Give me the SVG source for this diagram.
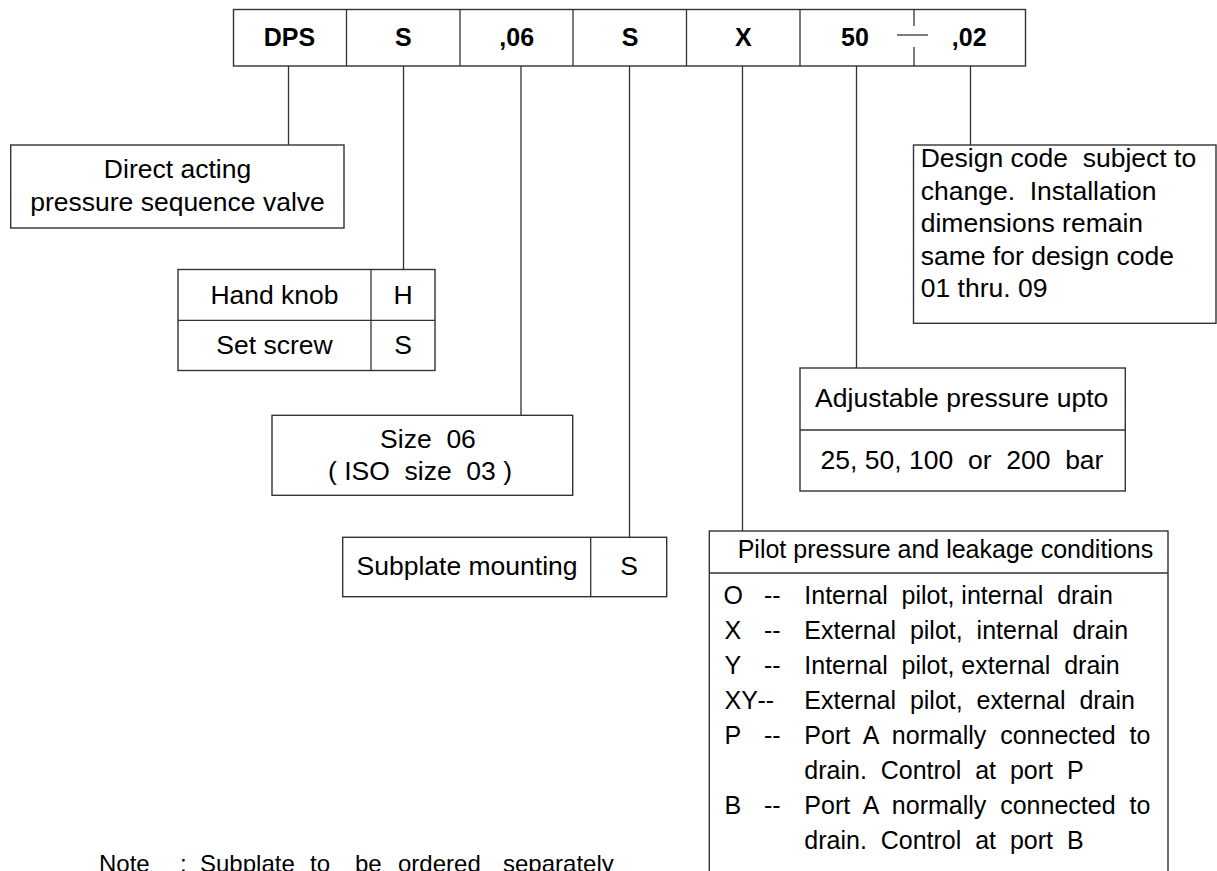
<svg xmlns="http://www.w3.org/2000/svg" width="1217" height="871" viewBox="0 0 1217 871">
<style>
text{white-space:pre}
.box{fill:#fff;stroke:#333;stroke-width:1.4}
.ln{stroke:#333;stroke-width:1.3;fill:none}
.t{font-family:"Liberation Sans",Arial,sans-serif;font-size:26.5px;fill:#000}
.p{font-family:"Liberation Sans",Arial,sans-serif;font-size:25px;fill:#000}
.b{font-family:"Liberation Sans",Arial,sans-serif;font-size:25px;font-weight:bold;fill:#000;text-anchor:middle}
.m{text-anchor:middle}
</style>
<rect width="1217" height="871" fill="#fff"/>
<g id="connectors">
<line class="ln" x1="288.5" y1="66" x2="288.5" y2="145"/>
<line class="ln" x1="403.5" y1="66" x2="403.5" y2="269"/>
<line class="ln" x1="521" y1="66" x2="521" y2="415"/>
<line class="ln" x1="629.5" y1="66" x2="629.5" y2="537"/>
<line class="ln" x1="742.5" y1="66" x2="742.5" y2="531"/>
<line class="ln" x1="856.5" y1="66" x2="856.5" y2="368"/>
<line class="ln" x1="970.5" y1="66" x2="970.5" y2="145"/>
</g>
<g id="code-bar">
<rect class="box" x="233.5" y="9.5" width="792" height="56.5"/>
<line class="ln" x1="346.5" y1="9.5" x2="346.5" y2="66"/>
<line class="ln" x1="460" y1="9.5" x2="460" y2="66"/>
<line class="ln" x1="573" y1="9.5" x2="573" y2="66"/>
<line class="ln" x1="686.5" y1="9.5" x2="686.5" y2="66"/>
<line class="ln" x1="800" y1="9.5" x2="800" y2="66"/>
<line class="ln" x1="914" y1="9.5" x2="914" y2="26"/>
<line class="ln" x1="914" y1="47" x2="914" y2="66"/>
<line class="ln" x1="897" y1="35" x2="928" y2="35"/>
<text class="b" x="289.5" y="46">DPS</text>
<text class="b" x="403.3" y="46">S</text>
<text class="b" x="516.7" y="46">,06</text>
<text class="b" x="630" y="46">S</text>
<text class="b" x="743.3" y="46">X</text>
<text class="b" x="855" y="46">50</text>
<text class="b" x="969.2" y="46">,02</text>
</g>
<g id="type">
<rect class="box" x="10.7" y="145" width="333.3" height="83"/>
<text class="t m" x="177.5" y="178.3">Direct acting</text>
<text class="t m" x="177.5" y="211">pressure sequence valve</text>
</g>
<g id="adjustment">
<rect class="box" x="178" y="269.5" width="257" height="101"/>
<line class="ln" x1="178" y1="320.3" x2="435" y2="320.3"/>
<line class="ln" x1="371" y1="269.5" x2="371" y2="370.5"/>
<text class="t m" x="274.5" y="304">Hand knob</text>
<text class="t m" x="403" y="304">H</text>
<text class="t m" x="274.5" y="354">Set screw</text>
<text class="t m" x="403" y="354">S</text>
</g>
<g id="size">
<rect class="box" x="272" y="415.3" width="300.7" height="80"/>
<text class="t m" x="428" y="448.3">Size  06</text>
<text class="t m" x="420" y="480">( ISO  size  03 )</text>
</g>
<g id="mounting">
<rect class="box" x="342.7" y="537.3" width="324" height="59.4"/>
<line class="ln" x1="590.7" y1="537.3" x2="590.7" y2="596.7"/>
<text class="t m" x="467" y="575">Subplate mounting</text>
<text class="t m" x="629" y="575">S</text>
</g>
<g id="design-code">
<rect class="box" x="913.5" y="145" width="302.5" height="178.3"/>
<text class="t" x="920.7" y="166.7">Design code  subject to</text>
<text class="t" x="920.7" y="199.5">change.  Installation</text>
<text class="t" x="920.7" y="232">dimensions remain</text>
<text class="t" x="920.7" y="264.5">same for design code</text>
<text class="t" x="920.7" y="297">01 thru. 09</text>
</g>
<g id="pressure">
<rect class="box" x="800" y="368" width="325.3" height="123"/>
<line class="ln" x1="800" y1="430" x2="1125.3" y2="430"/>
<text class="t m" x="961.7" y="407.3">Adjustable pressure upto</text>
<text class="t m" x="962" y="469.3">25, 50, 100  or  200  bar</text>
</g>
<g id="pilot">
<rect class="box" x="709.3" y="531" width="458.7" height="360"/>
<line class="ln" x1="709.3" y1="573" x2="1168" y2="573"/>
<text class="p" x="737.7" y="558">Pilot pressure and leakage conditions</text>
<text class="p" x="723.5" y="604">O</text><text class="p" x="764" y="604">--</text><text class="p" x="804.3" y="604">Internal  pilot, internal  drain</text>
<text class="p" x="724.5" y="639">X</text><text class="p" x="764" y="639">--</text><text class="p" x="804.3" y="639">External  pilot,  internal  drain</text>
<text class="p" x="724.5" y="674">Y</text><text class="p" x="764" y="674">--</text><text class="p" x="804.3" y="674">Internal  pilot, external  drain</text>
<text class="p" x="724.5" y="709">XY</text><text class="p" x="757.5" y="709">--</text><text class="p" x="804.3" y="709">External  pilot,  external  drain</text>
<text class="p" x="724.5" y="744">P</text><text class="p" x="764" y="744">--</text><text class="p" x="804.3" y="744">Port  A  normally  connected  to</text>
<text class="p" x="804.3" y="779">drain.  Control  at  port  P</text>
<text class="p" x="724.5" y="814">B</text><text class="p" x="764" y="814">--</text><text class="p" x="804.3" y="814">Port  A  normally  connected  to</text>
<text class="p" x="804.3" y="849">drain.  Control  at  port  B</text>
</g>
<g id="note">
<text class="p" y="872" style="font-size:24px"><tspan x="99">Note</tspan><tspan x="180">:</tspan><tspan x="200">Subplate</tspan><tspan x="310">to</tspan><tspan x="355">be</tspan><tspan x="398">ordered</tspan><tspan x="503">separately</tspan></text>
</g>
</svg>
